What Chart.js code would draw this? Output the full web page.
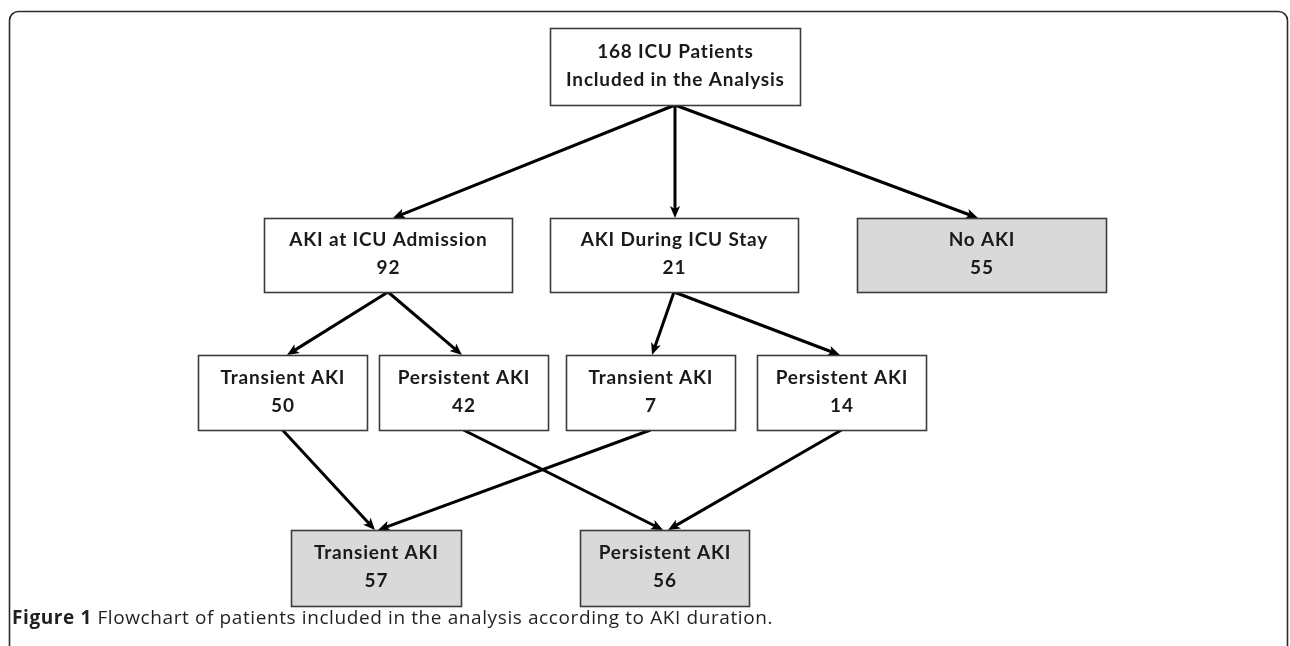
<!DOCTYPE html>
<html>
<head>
<meta charset="utf-8">
<script src="https://cdn.jsdelivr.net/npm/chart.js@4.4.0/dist/chart.umd.min.js"></script>
<style>
  html, body { margin: 0; padding: 0; background: #fff; }
  .wrap { position: relative; width: 1290px; height: 646px; overflow: hidden; }
  #flow { position: absolute; left: 0; top: 0; }
  .caption {
    position: absolute; left: 12px; top: 608px;
    font-family: "Open Sans", Lato, sans-serif; font-size: 19px; line-height: 19px;
    letter-spacing: 0.6px; color: #231f20; white-space: nowrap;
  }
</style>
</head>
<body>
<div class="wrap">
  <canvas id="flow" width="1290" height="646"></canvas>
  <div class="caption"><b>Figure 1</b> Flowchart of patients included in the analysis according to AKI duration.</div>
</div>
<script>
// node text and patient counts
const nodeTitles = ["ICU Patients", "AKI at ICU Admission", "AKI During ICU Stay", "No AKI",
  "Transient AKI", "Persistent AKI", "Transient AKI", "Persistent AKI",
  "Transient AKI", "Persistent AKI"];
const nodeCounts = [168, 92, 21, 55, 50, 42, 7, 14, 57, 56];
const topSubtitle = "Included in the Analysis";
const outcomeNodes = [3, 8, 9]; // grey boxes

// flow: [from, to]
const edges = [[0, 1], [0, 2], [0, 3], [1, 4], [1, 5], [2, 6], [2, 7], [4, 8], [6, 8], [5, 9], [7, 9]];

// layout (chart units, axes run 0..1290 and 0..646)
const nodeX = [675, 388, 674, 981.5, 282.5, 463.5, 650.5, 841.5, 376, 664.5];
const nodeY = [66.5, 255, 255, 255, 392.5, 392.5, 392.5, 392.5, 568, 568];
const nodeW = [250, 248, 248, 249, 169, 169, 169, 169, 170, 169];
const nodeH = [77, 74, 74, 74, 75, 75, 75, 75, 76, 76];
const tipDx = [5, 1, -3.5, 4.5, -1.5, 1.5, -1.5, -1, 2, -1.5, 3.5];

const HEAD = 13;

function shaft(e, i) {
  const s = e[0], t = e[1];
  const x0 = nodeX[s], y0 = nodeY[s] + nodeH[s] / 2;
  const x1 = nodeX[t] + tipDx[i], y1 = nodeY[t] - nodeH[t] / 2;
  const len = Math.hypot(x1 - x0, y1 - y0);
  const k = (len - HEAD * 0.6) / len;
  return [{ x: x0, y: y0 }, { x: x0 + (x1 - x0) * k, y: y0 + (y1 - y0) * k }];
}

const flowPlugin = {
  id: "flowPlugin",
  beforeDraw(chart) {
    const ctx = chart.ctx;
    ctx.save();
    ctx.strokeStyle = "#2b2b2b";
    ctx.lineWidth = 1.6;
    ctx.beginPath();
    ctx.roundRect(9.5, 11.5, 1278, 700, 9);
    ctx.stroke();
    ctx.restore();
  },
  afterDatasetsDraw(chart) {
    const ctx = chart.ctx;
    const xs = chart.scales.x, ys = chart.scales.y;
    ctx.save();
    // arrow heads
    ctx.fillStyle = "#000";
    edges.forEach((e, i) => {
      const s = e[0], t = e[1];
      const ax = xs.getPixelForValue(nodeX[s]), ay = ys.getPixelForValue(nodeY[s] + nodeH[s] / 2);
      const bx = xs.getPixelForValue(nodeX[t] + tipDx[i]), by = ys.getPixelForValue(nodeY[t] - nodeH[t] / 2);
      const ang = Math.atan2(by - ay, bx - ax);
      ctx.beginPath();
      ctx.moveTo(bx, by);
      ctx.lineTo(bx - HEAD * Math.cos(ang - 0.4), by - HEAD * Math.sin(ang - 0.4));
      ctx.lineTo(bx - HEAD * 0.7 * Math.cos(ang), by - HEAD * 0.7 * Math.sin(ang));
      ctx.lineTo(bx - HEAD * Math.cos(ang + 0.4), by - HEAD * Math.sin(ang + 0.4));
      ctx.closePath();
      ctx.fill();
    });
    // boxes
    nodeTitles.forEach((title, i) => {
      const l = Math.round(xs.getPixelForValue(nodeX[i] - nodeW[i] / 2)) + 0.5;
      const r = Math.round(xs.getPixelForValue(nodeX[i] + nodeW[i] / 2)) + 0.5;
      const tp = Math.round(ys.getPixelForValue(nodeY[i] - nodeH[i] / 2)) + 0.5;
      const bt = Math.round(ys.getPixelForValue(nodeY[i] + nodeH[i] / 2)) + 0.5;
      ctx.fillStyle = outcomeNodes.includes(i) ? "#d9d9d9" : "#fff";
      ctx.fillRect(l, tp, r - l, bt - tp);
      ctx.strokeStyle = "#3c3c3c";
      ctx.lineWidth = 1.6;
      ctx.strokeRect(l, tp, r - l, bt - tp);

      const lines = i === 0 ? [nodeCounts[i] + " " + title, topSubtitle] : [title, String(nodeCounts[i])];
      const cx = xs.getPixelForValue(nodeX[i]);
      const cy = ys.getPixelForValue(nodeY[i]);
      ctx.fillStyle = "#1a1a1a";
      ctx.font = "bold 19px Lato, 'Liberation Sans', sans-serif";
      ctx.letterSpacing = "0.8px";
      ctx.textAlign = "center";
      ctx.textBaseline = "middle";
      ctx.fillText(lines[0], cx + 0.4, cy - 15);
      ctx.fillText(lines[1], cx + 0.4, cy + 13);
    });
    ctx.restore();
  }
};

new Chart(document.getElementById("flow"), {
  type: "scatter",
  data: {
    datasets: edges.map((e, i) => ({
      data: shaft(e, i),
      showLine: true,
      borderColor: "#000",
      borderWidth: 3,
      pointRadius: 0,
      borderCapStyle: "butt",
    })),
  },
  options: {
    responsive: false,
    animation: false,
    layout: { padding: 0 },
    plugins: {
      legend: { display: false },
      tooltip: { enabled: false },
    },
    scales: {
      x: { type: "linear", min: 0, max: 1290, display: false },
      y: { type: "linear", min: 0, max: 646, reverse: true, display: false },
    },
  },
  plugins: [flowPlugin],
});
</script>
</body>
</html>
